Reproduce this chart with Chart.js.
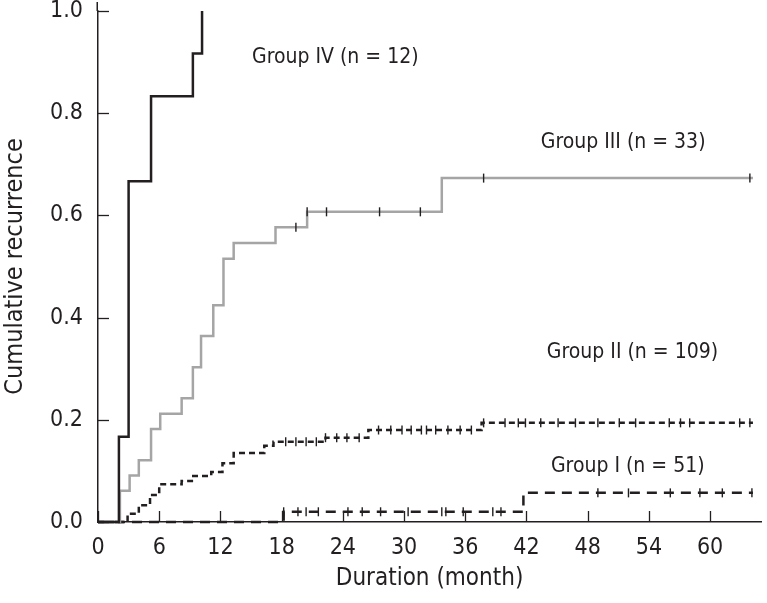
<!DOCTYPE html>
<html>
<head>
<meta charset="utf-8">
<script src="https://cdn.jsdelivr.net/npm/chart.js@4/dist/chart.umd.min.js"></script>
<style>
    body { margin: 0; background: #fff; }
    #wrap { width: 767px; height: 603px; }
</style>
</head>
<body>
<div id="wrap"><canvas id="grafico" width="767" height="603"></canvas></div>
<script>
// step points (month, cumulative recurrence)
var g4Months = [0, 2.05, 3.0, 5.2, 9.3, 10.2];
var g4Values = [0, 0.167, 0.667, 0.833, 0.917, 1.0];

var g3Months = [0, 2.15, 3.1, 4.0, 5.2, 6.1, 8.2, 9.3, 10.1, 11.3, 12.3, 13.3, 17.4, 20.5, 33.7, 64.2];
var g3Values = [0, 0.061, 0.091, 0.121, 0.182, 0.212, 0.242, 0.303, 0.364, 0.424, 0.515, 0.546, 0.577, 0.607, 0.673, 0.673];
var g3Censored = [19.4, 20.5, 22.4, 27.6, 31.6, 37.8, 63.9];

var g2Months = [0, 2.9, 4.0, 5.1, 6.0, 8.2, 9.2, 11.1, 12.2, 13.3, 16.3, 17.2, 22.3, 26.5, 37.6, 64.2];
var g2Values = [0, 0.016, 0.033, 0.053, 0.074, 0.080, 0.090, 0.098, 0.115, 0.135, 0.149, 0.157, 0.165, 0.180, 0.194, 0.194];
var g2Censored = [18.4, 19.4, 20.4, 21.4, 22.3, 23.4, 24.4, 25.6, 27.5, 28.7, 29.8, 30.7, 31.7, 32.2, 33.1, 34.3, 35.5, 36.6,
    37.8, 39.9, 41.2, 41.9, 43.4, 45.1, 46.8, 49, 51.1, 52.7, 56, 57.1, 58, 62.9, 63.9];

var g1Months = [0, 18.2, 41.7, 64.2];
var g1Values = [0, 0.020, 0.057, 0.057];
var g1Censored = [18.2, 19.6, 20.4, 21.6, 24.5, 25.9, 27.7, 30.4, 33.7, 34.1, 35.8, 38.7, 39.5, 49, 52, 56.1, 59, 61.2, 64.1];

var xTicks = [0, 6, 12, 18, 24, 30, 36, 42, 48, 54, 60];
var yTicks = [0, 0.2, 0.4, 0.6, 0.8, 1.0];

var groupLabels = ['Group IV (n = 12)', 'Group III (n = 33)', 'Group II (n = 109)', 'Group I (n = 51)'];
var labelAnchors = [[15.1, 0.908], [43.4, 0.742], [44.0, 0.331], [44.4, 0.108]];

var tinta = '#231f20';
var fuente = "'Liberation Sans Narrow', 'DejaVu Sans Condensed', 'Roboto Condensed', sans-serif";

function puntos(meses, valores) {
    var res = [];
    for (var i = 0; i < meses.length; i++) res.push({ x: meses[i], y: valores[i] });
    return res;
}

// censored marks sit on the curve at that month
function censurados(marcas, meses, valores) {
    return marcas.map(function (t) {
        var v = valores[0];
        for (var i = 0; i < meses.length; i++) {
            if (meses[i] <= t + 1e-9) v = valores[i];
        }
        return { x: t, y: v };
    });
}

function curva(label, meses, valores, color, dash) {
    return {
        type: 'line', label: label, data: puntos(meses, valores), stepped: 'before',
        borderColor: color, borderWidth: 2.5, borderDash: dash, pointRadius: 0,
        fill: false, clip: false, order: 2
    };
}

function marcas(label, lista, meses, valores) {
    return {
        type: 'scatter', label: label, data: censurados(lista, meses, valores),
        pointStyle: 'line', rotation: 90, pointRadius: 4.5, borderWidth: 1.4,
        borderColor: tinta, backgroundColor: tinta, clip: false, order: 1
    };
}

// ticks pointing into the plot + group labels
var extras = {
    id: 'extras',
    afterDraw: function (chart) {
        var ctx = chart.ctx, xs = chart.scales.x, ys = chart.scales.y;
        var len = 11;
        ctx.save();
        ctx.strokeStyle = tinta;
        ctx.lineWidth = 1.3;
        xTicks.forEach(function (v) {
            var px = Math.round(xs.getPixelForValue(v)) + 0.5;
            ctx.beginPath(); ctx.moveTo(px, ys.bottom); ctx.lineTo(px, ys.bottom - len); ctx.stroke();
        });
        yTicks.forEach(function (v) {
            var py = Math.round(ys.getPixelForValue(v)) + 0.5;
            ctx.beginPath(); ctx.moveTo(xs.left, py); ctx.lineTo(xs.left + len, py); ctx.stroke();
        });
        // y axis runs a little past 1.0
        ctx.lineWidth = 1.5;
        ctx.beginPath(); ctx.moveTo(xs.left - 0.75, ys.top); ctx.lineTo(xs.left - 0.75, ys.top - 9); ctx.stroke();

        ctx.fillStyle = tinta;
        ctx.font = '21px ' + fuente;
        ctx.textAlign = 'left';
        ctx.textBaseline = 'middle';
        groupLabels.forEach(function (t, i) {
            ctx.fillText(t, xs.getPixelForValue(labelAnchors[i][0]), ys.getPixelForValue(labelAnchors[i][1]));
        });
        ctx.restore();
    }
};

new Chart(document.getElementById('grafico'), {
    type: 'line',
    data: {
        datasets: [
            curva('Group IV', g4Months, g4Values, tinta, []),
            curva('Group III', g3Months, g3Values, '#a5a5a5', []),
            curva('Group II', g2Months, g2Values, tinta, [6, 4]),
            curva('Group I', g1Months, g1Values, tinta, [10, 7]),
            marcas('III censored', g3Censored, g3Months, g3Values),
            marcas('II censored', g2Censored, g2Months, g2Values),
            marcas('I censored', g1Censored, g1Months, g1Values)
        ]
    },
    options: {
        responsive: false,
        animation: false,
        layout: { padding: { top: 11, right: 2, left: 0, bottom: 0 } },
        plugins: { legend: { display: false }, tooltip: { enabled: false } },
        scales: {
            x: {
                type: 'linear', min: 0, max: 65,
                afterFit: function (s) { s.height = 81; s.paddingLeft = 0; s.paddingRight = 0; },
                afterBuildTicks: function (s) { s.ticks = xTicks.map(function (v) { return { value: v }; }); },
                grid: { drawOnChartArea: false, drawTicks: false },
                border: { color: tinta, width: 1.5 },
                ticks: { color: tinta, padding: 12, font: { family: fuente, size: 23 } },
                title: {
                    display: true, text: 'Duration (month)', color: tinta,
                    font: { family: fuente, size: 24 }, padding: { top: 0, bottom: 10 }
                }
            },
            y: {
                type: 'linear', min: 0, max: 1,
                afterFit: function (s) { s.width = 98; s.paddingTop = 0; s.paddingBottom = 0; },
                afterBuildTicks: function (s) { s.ticks = yTicks.map(function (v) { return { value: v }; }); },
                grid: { drawOnChartArea: false, drawTicks: false },
                border: { color: tinta, width: 1.5 },
                ticks: {
                    color: tinta, padding: 15, font: { family: fuente, size: 23 },
                    callback: function (v) { return v.toFixed(1); }
                },
                title: {
                    display: true, text: 'Cumulative recurrence', color: tinta,
                    font: { family: fuente, size: 25 }, padding: { top: 0, bottom: 0 }
                }
            }
        }
    },
    plugins: [extras]
});
</script>
</body>
</html>
